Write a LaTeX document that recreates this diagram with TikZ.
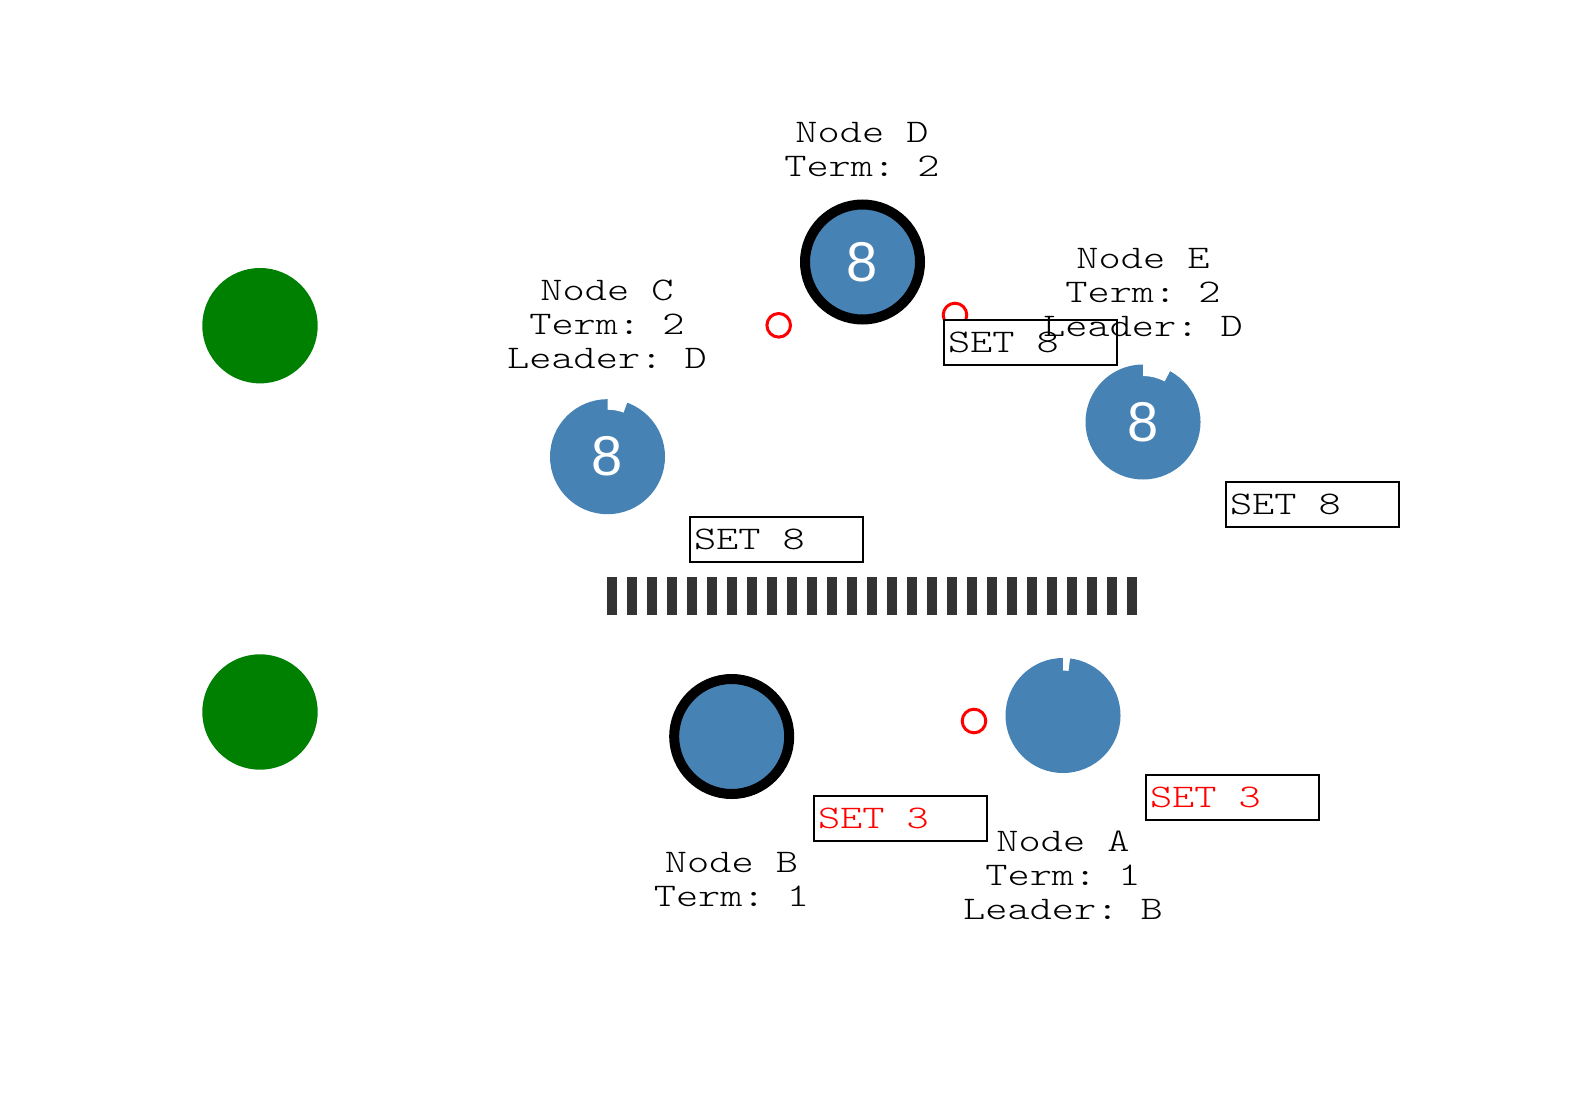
\documentclass[tikz,border=0pt]{standalone}
\usepackage{fontspec}
\newfontfamily\monof[FakeStretch=1.28]{lmmonolt10-regular.otf}
\newfontfamily\sansf{Liberation Sans}
\usetikzlibrary{calc}
\definecolor{steel}{HTML}{4682B4}
\definecolor{grn}{HTML}{008000}
\definecolor{barc}{HTML}{333333}
\newcommand\monosized{\monof\fontsize{33}{34}\selectfont\frenchspacing
  \fontdimen2\font=22.18pt\fontdimen3\font=0pt\fontdimen4\font=0pt}
\newcommand\msgtext[1]{\spaceskip=22.18pt\relax\xspaceskip=22.18pt\relax #1}
\newcommand\timernotch[3]{%
  \fill[white] ($(#1.center)+(#2:59pt)$) arc[start angle=#2, end angle=90, radius=59pt]
    -- ($(#1.center)+(90:#3)$) arc[start angle=90, end angle=#2, radius=#3] -- cycle;}
\begin{document}
\begin{tikzpicture}[x=1pt,y=-1pt,
  server/.style={circle, fill=steel, minimum size=115pt, inner sep=0pt, text=white,
    font=\sansf\fontsize{56}{56}\selectfont},
  leaderring/.style={draw=black, line width=10pt},
  peer/.style={circle, fill=grn, minimum size=115.4pt, inner sep=0pt},
  vote/.style={circle, draw=red, line width=3pt, minimum size=23.6pt, inner sep=0pt},
  msgbox/.style={draw=black, fill=white, line width=2pt, anchor=north west, minimum height=45pt,
    text width=165pt, inner xsep=4pt, inner ysep=0pt, align=left, font=\monosized},
  info/.style={anchor=south, inner sep=0pt, align=center, font=\monosized},
  partition/.style={draw=barc, line width=38pt, dash pattern=on 10pt off 10pt}
]
\useasboundingbox (0,0) rectangle (1586,1094);

% peers (green)
\node[peer] (P1) at (260,325.7) {};
\node[peer] (P2) at (260,712) {};

% servers
\node[server, leaderring] (D) at (862.5,262) {8};
\node[server] (C) at (607.5,456.7) {8};
\node[server] (E) at (1143,422) {8};
\node[server, leaderring] (B) at (731.7,736.5) {};
\node[server] (A) at (1063,715.5) {};

\timernotch{C}{70}{47pt}
\timernotch{E}{62}{46pt}
\timernotch{A}{83}{45pt}

% partition bar
\coordinate (barL) at (607,596);
\coordinate (barR) at (1137,596);
\draw[partition] (barL) -- (barR);

% vote markers
\node[vote] (v1) at (778.7,325.3) {};
\node[vote] (v2) at (955,315) {};
\node[vote] (v3) at (974,721) {};

% messages
\node[msgbox] (mD) at (943,319) {\msgtext{SET 8}};
\node[msgbox] (mC) at (689,516) {\msgtext{SET 8}};
\node[msgbox] (mE) at (1225,481) {\msgtext{SET 8}};
\node[msgbox, text=red] (mB) at (813,795) {\msgtext{SET 3}};
\node[msgbox, text=red] (mA) at (1145,774) {\msgtext{SET 3}};

% labels
\node[info] (lD) at (862,176.7) {Node D\\Term: 2};
\node[info] (lC) at (607,369.3) {Node C\\Term: 2\\Leader: D};
\node[info] (lE) at (1143,336.7) {Node E\\Term: 2\\Leader: D};
\node[info] (lB) at (731.5,907) {Node B\\Term: 1};
\node[info] (lA) at (1063,920) {Node A\\Term: 1\\Leader: B};
\end{tikzpicture}
\end{document}
